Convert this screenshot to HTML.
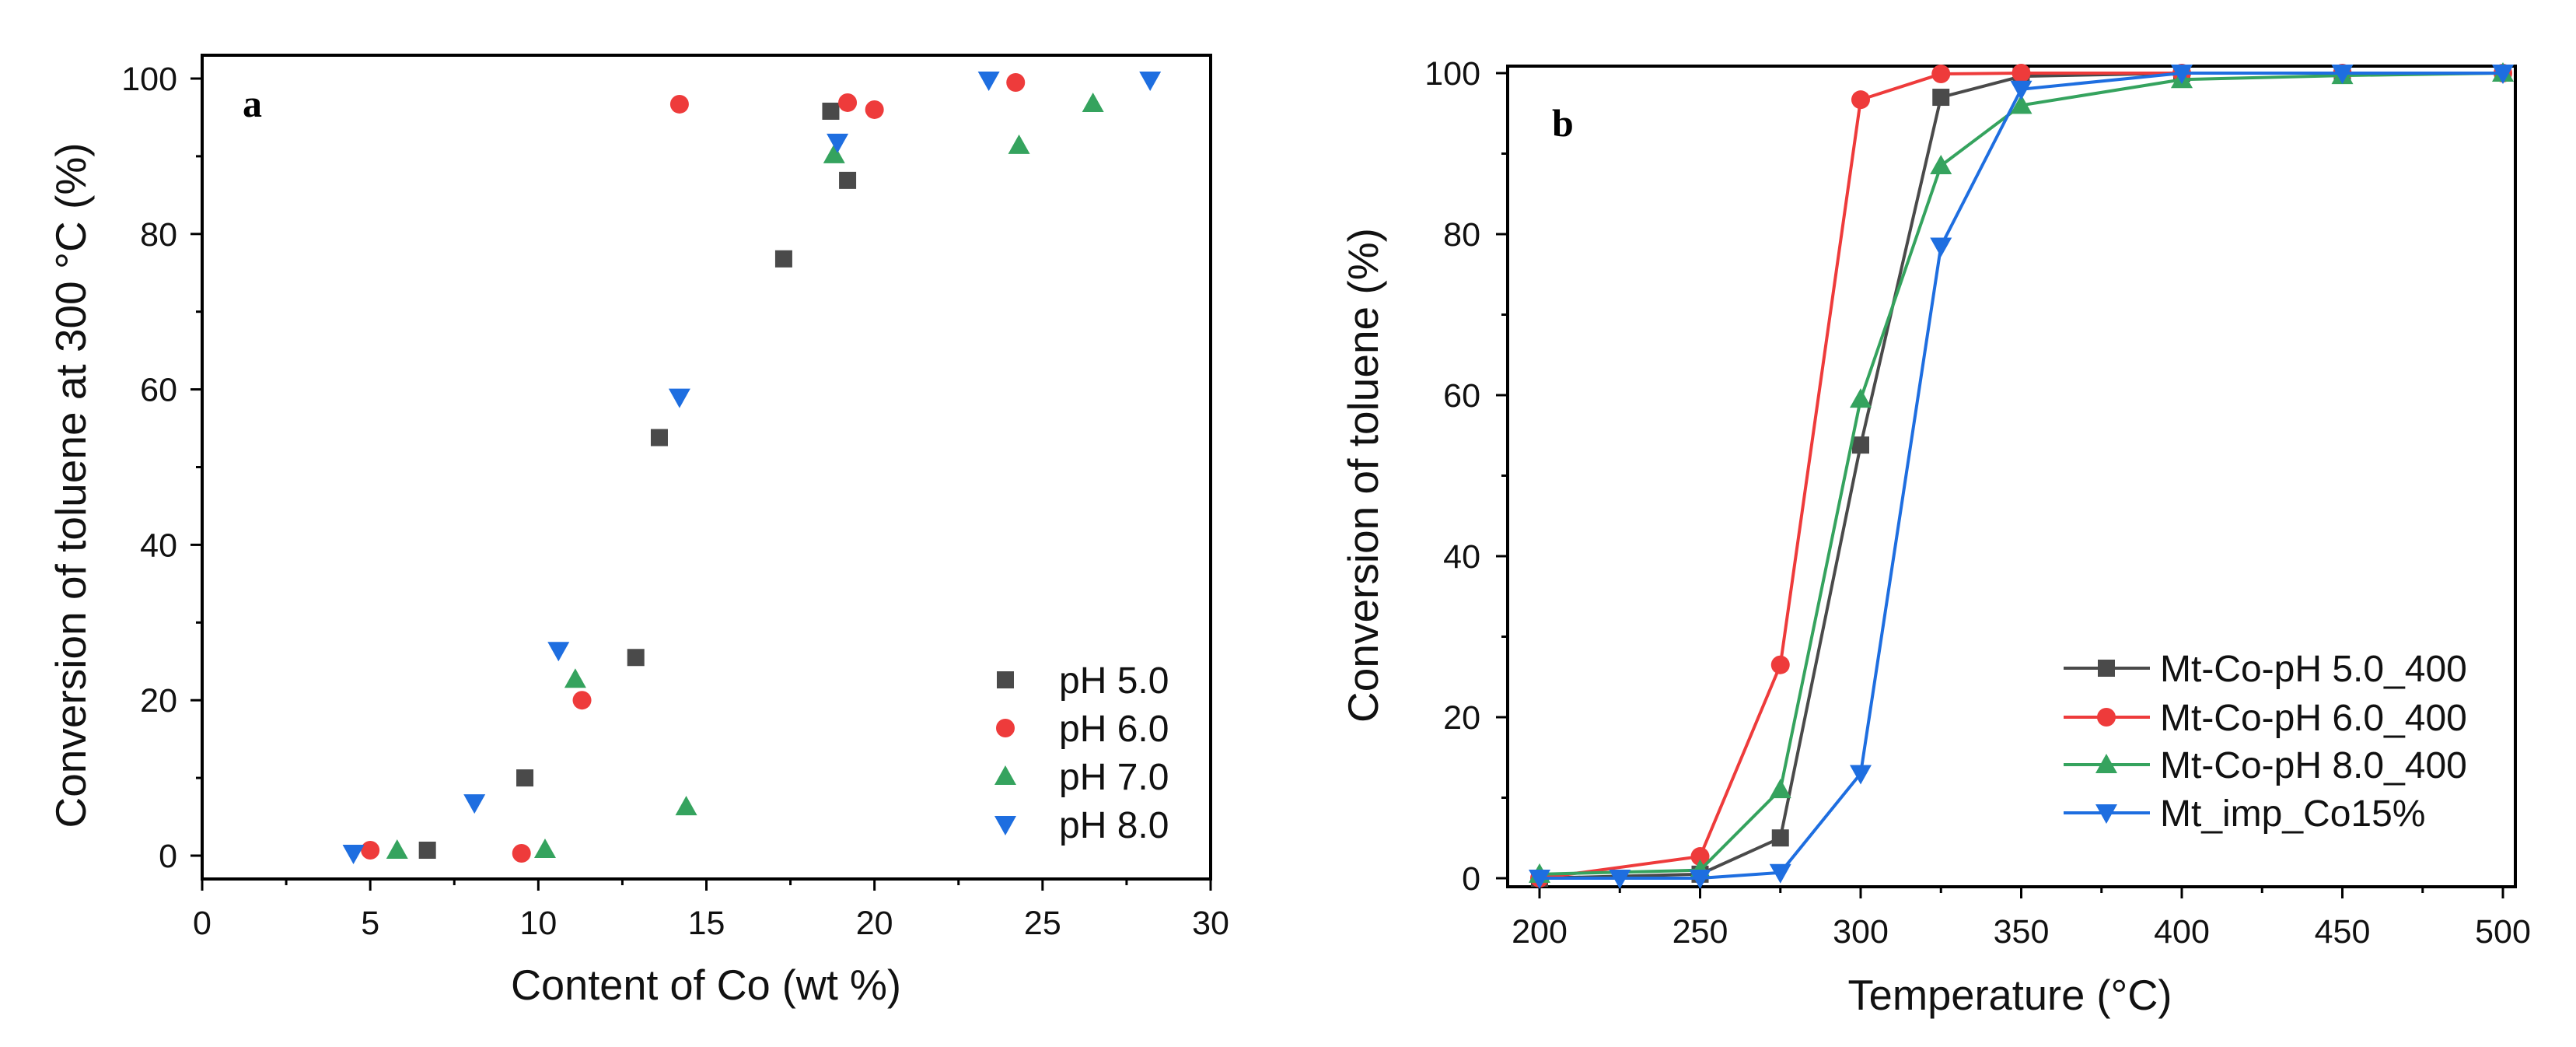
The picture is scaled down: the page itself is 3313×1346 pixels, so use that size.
<!DOCTYPE html>
<html><head><meta charset="utf-8"><style>
html,body{margin:0;padding:0;background:#fff;overflow:hidden}
svg{display:block}
.tk{font-family:"Liberation Sans",sans-serif;font-size:43px;fill:#111}
.tt{font-family:"Liberation Sans",sans-serif;font-size:55px;fill:#111}
.lg{font-family:"Liberation Sans",sans-serif;font-size:48px;fill:#111}
</style></head><body>
<svg id="s" width="3313" height="1346" viewBox="0 0 3313 1346" xmlns="http://www.w3.org/2000/svg"></svg>
<script>
// Panel a data
const aXTicks=[0,5,10,15,20,25,30];
const aYTicks=[0,20,40,60,80,100];
const aNames=["pH 5.0","pH 6.0","pH 7.0","pH 8.0"];
const aPH5x=[6.7,9.6,12.9,13.6,17.3,18.7,19.2];
const aPH5y=[0.7,10,25.5,53.8,76.8,95.8,86.9];
const aPH6x=[5,9.5,11.3,14.2,19.2,20,24.2];
const aPH6y=[0.7,0.3,20,96.7,96.9,96,99.5];
const aPH7x=[5.8,10.2,11.1,14.4,18.8,24.3,26.5];
const aPH7y=[0.7,0.8,22.7,6.3,90.2,91.4,96.8];
const aPH8x=[4.5,8.1,10.6,14.2,18.9,23.4,28.2];
const aPH8y=[0.3,6.8,26.4,59,91.8,99.8,99.8];
// Panel b data
const bXTicks=[200,250,300,350,400,450,500];
const bYTicks=[0,20,40,60,80,100];
const bNames=["Mt-Co-pH 5.0_400","Mt-Co-pH 6.0_400","Mt-Co-pH 8.0_400","Mt_imp_Co15%"];
const bT=[200,250,275,300,325,350,400,450,500];
const bTimp=[200,225,250,275,300,325,350,400,450,500];
const bPH5=[0,0.5,5,53.8,97,99.6,100,100,100];
const bPH6=[0,2.7,26.5,96.7,99.9,100,100,100,100];
const bPH8=[0.5,1,11,59.5,88.5,96,99.2,99.7,100];
const bImp=[0,0,0,0.7,13,78.5,98,100,100,100];

const colors=["#4a4a4a","#ee3b3b","#35a35e","#1e6ee0"];
const shapes=["square","circle","up","down"];
const NS="http://www.w3.org/2000/svg";
const svg=document.getElementById('s');
function el(tag,attrs,parent,text){const e=document.createElementNS(NS,tag);for(const k in attrs)e.setAttribute(k,attrs[k]);if(text!==undefined)e.textContent=text;(parent||svg).appendChild(e);return e;}
function marker(g,shape,cx,cy,c,name){
  let m;const r=11;
  if(shape==="square")m=el('rect',{x:cx-r,y:cy-r,width:2*r,height:2*r,fill:c},g);
  else if(shape==="circle")m=el('circle',{cx:cx,cy:cy,r:r+1,fill:c},g);
  else if(shape==="up")m=el('polygon',{points:`${cx-14},${cy+11} ${cx+14},${cy+11} ${cx},${cy-14}`,fill:c},g);
  else m=el('polygon',{points:`${cx-14},${cy-11} ${cx+14},${cy-11} ${cx},${cy+14}`,fill:c},g);
  
  
  return m;
}
function axes(p){
  const g=el('g',{});
  
  
  const b=el('rect',{x:p.L,y:p.T,width:p.R-p.L,height:p.B-p.T,fill:'none',stroke:'#000','stroke-width':4},g);
  
  
  p.xt.forEach(v=>{const x=p.sx(v);el('line',{x1:x,x2:x,y1:p.B,y2:p.B+15,stroke:'#000','stroke-width':3},g);
    const t=el('text',{x:x,y:p.xly,'text-anchor':'middle',class:'tk'},g,v);});
  p.xm.forEach(v=>{const x=p.sx(v);el('line',{x1:x,x2:x,y1:p.B,y2:p.B+8,stroke:'#000','stroke-width':3},g);});
  p.yt.forEach(v=>{const y=p.sy(v);el('line',{x1:p.L-15,x2:p.L,y1:y,y2:y,stroke:'#000','stroke-width':3},g);
    const t=el('text',{x:p.ylx,y:y+15,'text-anchor':'end',class:'tk'},g,v);});
  p.ym.forEach(v=>{const y=p.sy(v);el('line',{x1:p.L-8,x2:p.L,y1:y,y2:y,stroke:'#000','stroke-width':3},g);});
  const xt=el('text',{x:p.xtx,y:p.xty,'text-anchor':'middle',class:'tt',textLength:p.xtl,lengthAdjust:'spacingAndGlyphs'},g,p.xtitle);
  
  const yt=el('text',{x:0,y:0,'text-anchor':'middle',class:'tt',transform:`translate(${p.ytx},${p.yty}) rotate(-90)`},g,p.ytitle);
  
  const lb=el('text',{x:p.lbx,y:p.lby,style:'font-family:"Liberation Serif",serif;font-weight:bold;font-size:50px'},g,p.id==='panel-a'?'a':'b');
  
}
// Panel a
const A={id:'panel-a',L:260,R:1557,T:71,B:1130,
  sx:v=>260+v*(1557-260)/30, sy:v=>1100-v*(1100-101)/100,
  xt:aXTicks,xm:[2.5,7.5,12.5,17.5,22.5,27.5],yt:aYTicks,ym:[10,30,50,70,90],
  xly:1201,ylx:228,xtitle:'Content of Co (wt %)',xtl:502,xtx:908,xty:1285,
  ytitle:'Conversion of toluene at 300 °C (%)',ytx:110,yty:624,lbx:312,lby:150};
axes(A);
const aXs=[aPH5x,aPH6x,aPH7x,aPH8x],aYs=[aPH5y,aPH6y,aPH7y,aPH8y];
aXs.forEach((xs,i)=>{const g=el('g',{});
  xs.forEach((x,j)=>marker(g,shapes[i],A.sx(x),A.sy(aYs[i][j]),colors[i],'point'));});
const aLegY=[874,936,998,1060];
aNames.forEach((n,i)=>{const g=el('g',{});
  marker(g,shapes[i],1293,aLegY[i],colors[i],'legend-marker');
  const t=el('text',{x:1362,y:aLegY[i]+17,class:'lg'},g,n);});
// Panel b
const B={id:'panel-b',L:1939,R:3235,T:85,B:1140,
  sx:v=>1980+(v-200)*(3219-1980)/300, sy:v=>1129-v*(1129-94)/100,
  xt:bXTicks,xm:[225,275,325,375,425,475],yt:bYTicks,ym:[10,30,50,70,90],
  xly:1212,ylx:1904,xtitle:'Temperature (°C)',xtl:417,xtx:2585,xty:1298,
  ytitle:'Conversion of toluene (%)',ytx:1772,yty:611,lbx:1996,lby:175};
axes(B);
const bXs=[bT,bT,bT,bTimp],bYs=[bPH5,bPH6,bPH8,bImp];
bXs.forEach((xs,i)=>{const g=el('g',{});
  const pts=xs.map((x,j)=>B.sx(x)+','+B.sy(bYs[i][j])).join(' ');
  const l=el('polyline',{points:pts,fill:'none',stroke:colors[i],'stroke-width':4},g);
  
  xs.forEach((x,j)=>marker(g,shapes[i],B.sx(x),B.sy(bYs[i][j]),colors[i],'point'));});
const bLegY=[859,922,983,1045];
bNames.forEach((n,i)=>{const g=el('g',{});
  el('line',{x1:2654,x2:2765,y1:bLegY[i],y2:bLegY[i],stroke:colors[i],'stroke-width':4},g);
  marker(g,shapes[i],2709,bLegY[i],colors[i],'legend-marker');
  const t=el('text',{x:2778,y:bLegY[i]+17,class:'lg'},g,n);});
</script>
</body></html>
